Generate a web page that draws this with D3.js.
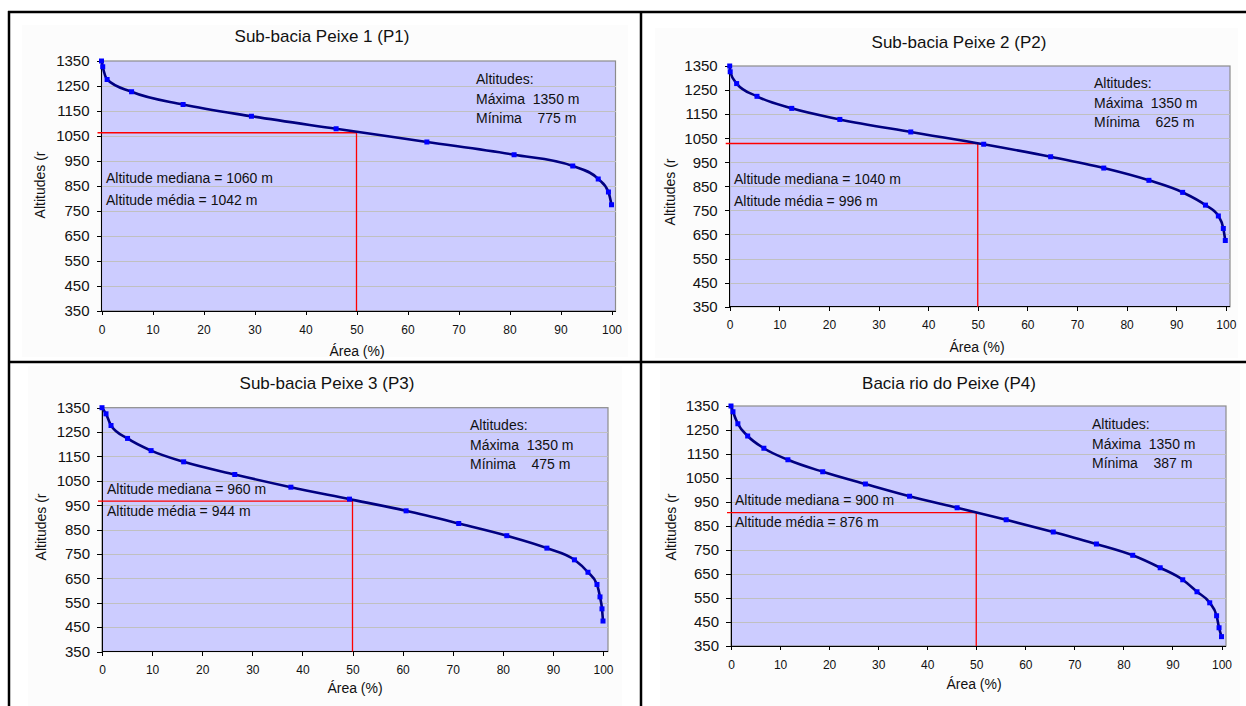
<!DOCTYPE html>
<html lang="pt">
<head>
<meta charset="UTF-8">
<title>Curvas hipsométricas - Peixe</title>
<script src="https://d3js.org/d3.v7.min.js"></script>
<style>
    body { margin: 0; background: #ffffff; }
    svg { display: block; font-family: "Liberation Sans", Arial, sans-serif; }
    .axis path, .axis line { stroke: #000; shape-rendering: crispEdges; }
    .axis text { fill: #111; }
    .grid { stroke: #c0c0c0; stroke-width: 1; shape-rendering: crispEdges; }
    .note { font-size: 14px; fill: #111; white-space: pre; }
</style>
</head>
<body>
<div id="chart"></div>
<script>
// data: area (%) and altitude (m) at each 50 m class limit
const titles = ["Sub-bacia Peixe 1 (P1)", "Sub-bacia Peixe 2 (P2)", "Sub-bacia Peixe 3 (P3)", "Bacia rio do Peixe (P4)"];

const areaP1 = [0, 0.24, 1.1, 5.9, 16.0, 29.4, 46.0, 63.8, 80.9, 92.4, 97.4, 99.4, 100];
const altP1  = [1350, 1327, 1276, 1227, 1176, 1129, 1079, 1026, 975, 930, 878, 826, 775];

const areaP2 = [0, 0.1, 1.4, 5.5, 12.5, 22.2, 36.5, 51.2, 64.7, 75.4, 84.5, 91.3, 95.9, 98.5, 99.5, 99.9];
const altP2  = [1350, 1326, 1277, 1224, 1174, 1128, 1076, 1025, 973, 926, 875, 825, 772, 727, 675, 625];

const areaP3 = [0, 0.8, 1.8, 5.1, 9.8, 16.3, 26.5, 37.7, 49.4, 60.7, 71.2, 80.8, 88.8, 94.3, 97.0, 98.8, 99.4, 99.8, 100];
const altP3  = [1350, 1325, 1277, 1224, 1174, 1128, 1076, 1024, 975, 927, 875, 825, 774, 726, 675, 625, 574, 525, 475];

const areaP4 = [0, 0.4, 1.4, 3.4, 6.7, 11.6, 18.7, 27.4, 36.4, 46.1, 56.1, 65.7, 74.5, 81.9, 87.5, 92.1, 95.0, 97.6, 99.0, 99.5, 100];
const altP4  = [1350, 1326, 1276, 1225, 1174, 1126, 1076, 1025, 974, 926, 876, 825, 775, 728, 676, 626, 576, 530, 476, 426, 389];

const maxText    = ["1350 m", "1350 m", "1350 m", "1350 m"];
const minText    = ["775 m", "625 m", "475 m", "387 m"];
const medianText = ["1060 m", "1040 m", "960 m", "900 m"];
const meanText   = ["1042 m", "996 m", "944 m", "876 m"];
const medianLine = [1063, 1028, 967, 906];   // height of the red guide line as drawn
const medianArea = 50;

const xTicks = [0, 10, 20, 30, 40, 50, 60, 70, 80, 90, 100];
const yTicks = [350, 450, 550, 650, 750, 850, 950, 1050, 1150, 1250, 1350];

// layout of the four panels (pixels)
const layout = [
    { bg: [22, 25, 606, 332],  x0: 101.5, x100: 611.5, right: 615.5, top: 61,    bottom: 311,   title: [322, 36],  xt: [357, 351], yt: [40, 185],  maxi: [476, 79],   med: [106, 178] },
    { bg: [655, 28, 583, 330], x0: 729.7, x100: 1225.8, right: 1230, top: 66,    bottom: 306.7, title: [959, 42],  xt: [977, 347], yt: [670, 192], maxi: [1094, 83], med: [734, 179] },
    { bg: [28, 366, 594, 340], x0: 102,   x100: 603,   right: 608,   top: 407.7, bottom: 651.5, title: [327, 383], xt: [355, 688], yt: [41, 527],  maxi: [470, 425],  med: [107, 489] },
    { bg: [660, 366, 580, 340],x0: 731,   x100: 1221.5, right: 1226, top: 406,   bottom: 646,   title: [949, 383], xt: [974, 684], yt: [671, 527], maxi: [1092, 424], med: [735, 500] }
];

const areas = [areaP1, areaP2, areaP3, areaP4];
const alts = [altP1, altP2, altP3, altP4];

const svg = d3.select("#chart").append("svg")
    .attr("width", 1246)
    .attr("height", 706);

layout.forEach((L, i) => {
    const g = svg.append("g");

    // chart area (very faint grey)
    g.append("rect")
        .attr("x", L.bg[0]).attr("y", L.bg[1])
        .attr("width", L.bg[2]).attr("height", L.bg[3])
        .attr("fill", "#fcfcfc");

    const x = d3.scaleLinear().domain([0, 100]).range([L.x0, L.x100]);
    const y = d3.scaleLinear().domain([350, 1350]).range([L.bottom, L.top]);

    // plot area
    g.append("rect")
        .attr("x", L.x0).attr("y", L.top)
        .attr("width", L.right - L.x0).attr("height", L.bottom - L.top)
        .attr("fill", "#ccccff")
        .attr("stroke", "#8c8c8c")
        .attr("stroke-width", 1.2);

    g.selectAll(".grid")
        .data(yTicks.slice(1, -1))
        .enter().append("line")
        .attr("class", "grid")
        .attr("x1", L.x0).attr("x2", L.right)
        .attr("y1", d => Math.round(y(d)) + 0.5)
        .attr("y2", d => Math.round(y(d)) + 0.5);

    // axes
    g.append("g")
        .attr("class", "axis")
        .attr("transform", `translate(${L.x0},0)`)
        .call(d3.axisLeft(y).tickValues(yTicks).tickFormat(d3.format("d")).tickSize(5).tickPadding(7).tickSizeOuter(0))
        .call(a => a.select(".domain").attr("d", `M0,${L.top}V${L.bottom}`))
        .selectAll("text").style("font-size", "15px");

    g.append("g")
        .attr("class", "axis")
        .attr("transform", `translate(0,${L.bottom})`)
        .call(d3.axisBottom(x).tickValues(xTicks).tickFormat(d3.format("d")).tickSize(4).tickPadding(10).tickSizeOuter(0))
        .call(a => a.select(".domain").attr("d", `M${L.x0},0H${L.right}`))
        .selectAll("text").style("font-size", "12px");

    // median guide (red)
    g.append("path")
        .attr("d", `M${L.x0 - 4},${y(medianLine[i])}H${x(medianArea)}V${L.bottom}`)
        .attr("fill", "none")
        .attr("stroke", "#ff0000")
        .attr("stroke-width", 1.3);

    // hypsometric curve
    const pts = areas[i].map((a, k) => [a, alts[i][k]]);
    const line = d3.line()
        .x(d => x(d[0]))
        .y(d => y(d[1]))
        .curve(d3.curveMonotoneX);

    g.append("path")
        .datum(pts)
        .attr("d", line)
        .attr("fill", "none")
        .attr("stroke", "#000080")
        .attr("stroke-width", 2.6);

    g.selectAll(".mk")
        .data(pts)
        .enter().append("rect")
        .attr("class", "mk")
        .attr("x", d => x(d[0]) - 2.5)
        .attr("y", d => y(d[1]) - 2.5)
        .attr("width", 5).attr("height", 5)
        .attr("fill", "#0000ff");

    // texts
    g.append("text")
        .attr("x", L.title[0]).attr("y", L.title[1])
        .attr("text-anchor", "middle")
        .attr("dominant-baseline", "central")
        .style("font-size", "17px")
        .style("fill", "#111")
        .text(titles[i]);

    g.append("text")
        .attr("x", L.xt[0]).attr("y", L.xt[1])
        .attr("text-anchor", "middle")
        .attr("dominant-baseline", "central")
        .style("font-size", "14px")
        .style("fill", "#111")
        .text("Área (%)");

    g.append("text")
        .attr("transform", `translate(${L.yt[0]},${L.yt[1]}) rotate(-90)`)
        .attr("text-anchor", "middle")
        .attr("dominant-baseline", "central")
        .style("font-size", "14px")
        .style("fill", "#111")
        .text("Altitudes (r");

    const notes = ["Altitudes:", "Máxima  " + maxText[i], "Mínima    " + minText[i]];
    notes.forEach((t, k) => {
        g.append("text")
            .attr("class", "note")
            .attr("x", L.maxi[0]).attr("y", L.maxi[1] + k * 19.5)
            .attr("dominant-baseline", "central")
            .text(t);
    });

    ["Altitude mediana = " + medianText[i], "Altitude média = " + meanText[i]].forEach((t, k) => {
        g.append("text")
            .attr("class", "note")
            .attr("x", L.med[0]).attr("y", L.med[1] + k * 21.5)
            .attr("dominant-baseline", "central")
            .text(t);
    });
});

// black frame of the table holding the charts
const frame = [
    [8, 12, 1246, 12],
    [9, 11, 9, 706],
    [641, 11, 641, 706],
    [8, 362, 1246, 362]
];
svg.selectAll(".frame")
    .data(frame)
    .enter().append("line")
    .attr("x1", d => d[0]).attr("y1", d => d[1])
    .attr("x2", d => d[2]).attr("y2", d => d[3])
    .attr("stroke", "#000")
    .attr("stroke-width", 2.5);
</script>
</body>
</html>
